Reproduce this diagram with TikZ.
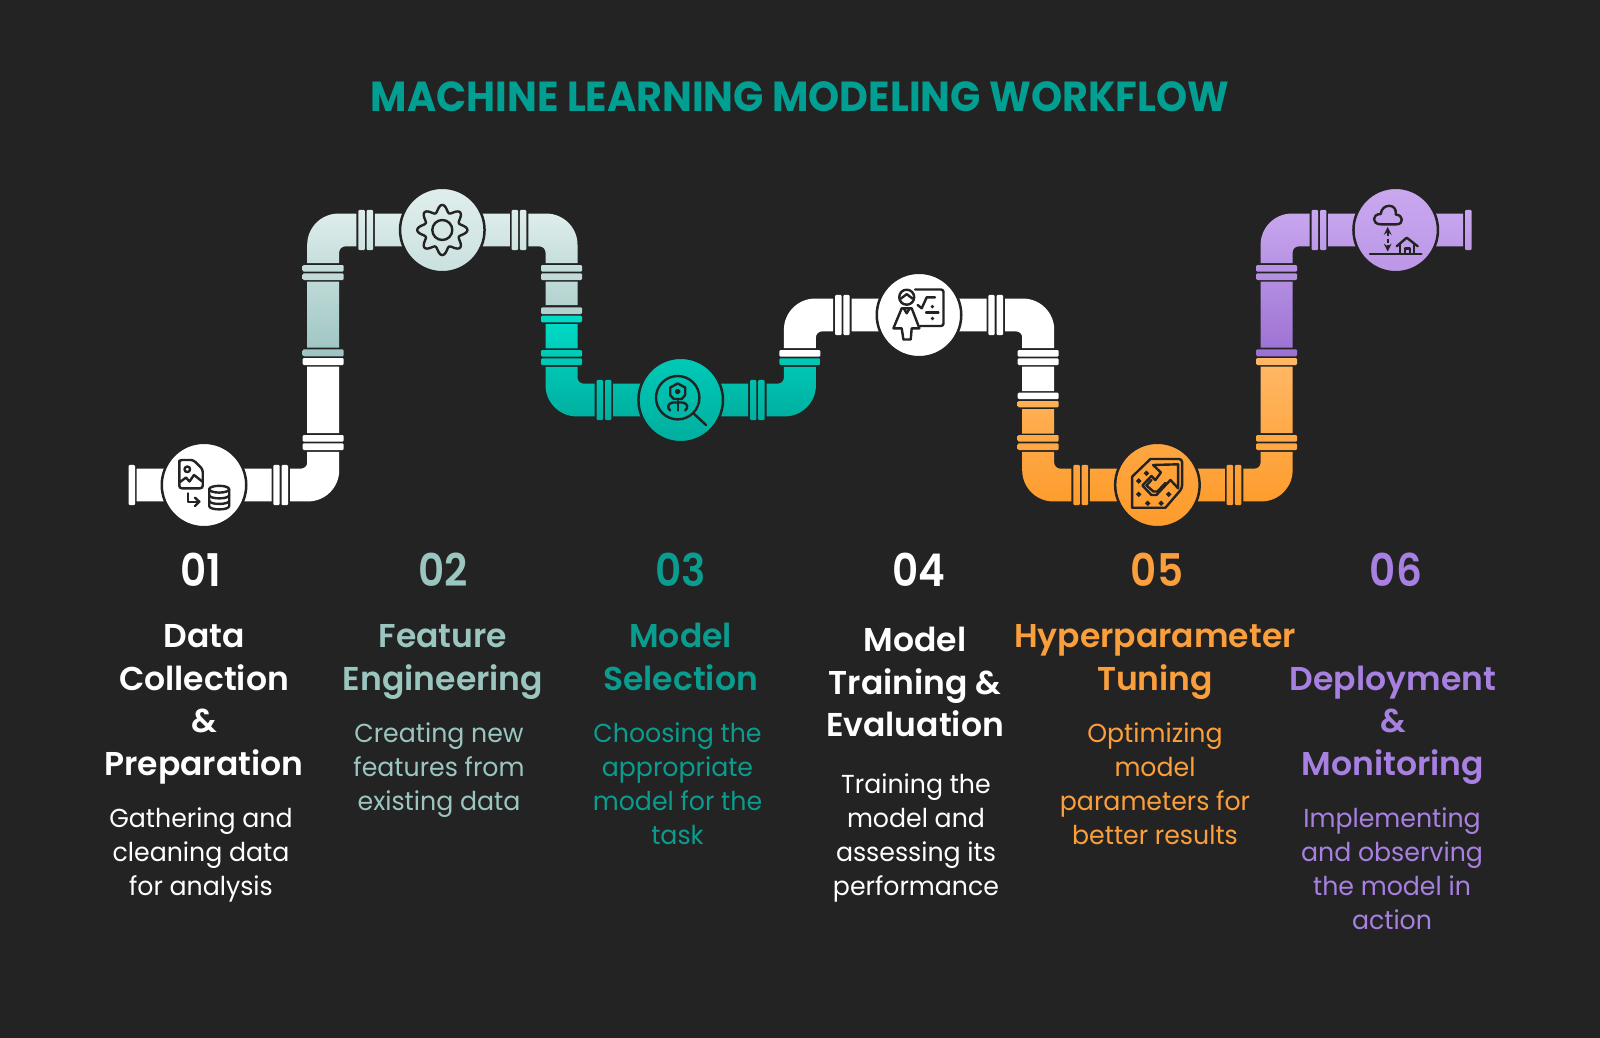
\documentclass[tikz,border=0pt]{standalone}
\usepackage{fontspec}
\setmainfont[FakeStretch=0.97]{Poppins}
\newfontfamily\headfont{Poppins SemiBold}
\newfontfamily\numfont[FakeStretch=0.9]{Poppins SemiBold}
\newfontfamily\titlefont[FakeStretch=0.944]{Poppins Bold}
\usetikzlibrary{calc}
\definecolor{bgdark}{HTML}{232323}
\definecolor{paleA}{HTML}{DFEEEC}
\definecolor{paleB}{HTML}{9CC4C1}
\definecolor{paleText}{HTML}{9BC6C0}
\definecolor{tealA}{HTML}{00DCC8}
\definecolor{tealB}{HTML}{00AE9E}
\definecolor{tealText}{HTML}{0A9C8E}
\definecolor{titleText}{HTML}{009F92}
\definecolor{orangeA}{HTML}{FFB866}
\definecolor{orangeB}{HTML}{FE9C2C}
\definecolor{orangeText}{HTML}{FB9F3C}
\definecolor{purpleA}{HTML}{C9A8EF}
\definecolor{purpleB}{HTML}{9B70D3}
\definecolor{purpleText}{HTML}{A880E2}
\def\flangeH#1#2#3{[rounded corners=1.2pt] (#1,#3-20.2) rectangle (#2,#3+20.2)}
\def\flangeV#1#2#3{[rounded corners=1.2pt] (#1-20.5,#2) rectangle (#1+20.5,#3)}
\def\pipeH#1#2#3{[sharp corners] (#1,#3-16.4) rectangle (#2,#3+16.4)}
\def\pipeV#1#2#3{[sharp corners] (#1-16,#2) rectangle (#1+16,#3)}
\def\elbowPipe#1#2#3#4#5{[sharp corners] ({#1},{#4+(#5)*16.4}) -- ({#2+(#3)*(16-31)},{#4+(#5)*16.4})
	.. controls ({#2+(#3)*(16-14)},{#4+(#5)*16.4}) and ({#2+(#3)*16},{#4+(#5)*(16.4-14)}) .. ({#2+(#3)*16},{#4+(#5)*(16.4-31)})
	-- ({#2+(#3)*16},{#4-(#5)*33.2}) -- ({#2-(#3)*16},{#4-(#5)*33.2}) -- ({#2-(#3)*16},{#4-(#5)*(16.4+6)})
	.. controls ({#2-(#3)*16},{#4-(#5)*(16.4+2.7)}) and ({#2-(#3)*(16+2.7)},{#4-(#5)*16.4}) .. ({#2-(#3)*(16+6)},{#4-(#5)*16.4})
	-- ({#1},{#4-(#5)*16.4}) -- cycle}
\def\runLeft#1#2{\flangeH{#1-84}{#1-77.5}{#2} \flangeH{#1-75.7}{#1-69.3}{#2} \pipeH{#1-67.5}{#1}{#2}}
\def\runRight#1#2{\pipeH{#1}{#1+67.5}{#2} \flangeH{#1+69.3}{#1+75.7}{#2} \flangeH{#1+77.5}{#1+84}{#2}}
\def\drawPlusMark#1#2{
\fill[bgdark] (#1-2.8,#2) -- (#1,#2-2.8) -- (#1+2.8,#2) -- (#1,#2+2.8) -- cycle;
}
\begin{document}
\begin{tikzpicture}[x=1pt,y=-1pt,
hub/.style={circle, inner sep=0pt, outer sep=0pt, minimum size=84.5pt, draw=bgdark, line width=2.5pt},
iconline/.style={draw=bgdark, line width=2.4pt, line cap=round, line join=round},
numtext/.style={inner sep=0pt, font=\fontsize{45}{45}\numfont},
headtext/.style={inner sep=0pt, align=center, font=\fontsize{33}{42.5}\headfont},
desctext/.style={inner sep=0pt, align=center, font=\fontsize{26}{34}\selectfont}]
\useasboundingbox (0,0) rectangle (1600,1038);
\fill[bgdark] (0,0) rectangle (1600,1038);
\coordinate (p1) at (204,485);
\coordinate (p2) at (442.3,230);
\coordinate (p3) at (680.7,400);
\coordinate (p4) at (919,315);
\coordinate (p5) at (1157.4,485);
\coordinate (p6) at (1395.7,230);
\fill[white] \flangeH{128.7}{135}{485} \pipeH{136.5}{204}{485} \runRight{204}{485}
	\elbowPipe{204+86}{323.2}{1}{485}{1}
	\flangeV{323.2}{443.3}{450} \flangeV{323.2}{435}{441.7}
	\pipeV{323.2}{366.7}{433} \flangeV{323.2}{358}{365};
\shade[top color=paleA, bottom color=paleB] \flangeV{323.2}{349.3}{356.3}
	\pipeV{323.2}{281.7}{347.5} \flangeV{323.2}{273.3}{280} \flangeV{323.2}{265}{271.7}
	\elbowPipe{442.3-86}{323.2}{-1}{230}{-1} \runLeft{442.3}{230} \runRight{442.3}{230}
	\elbowPipe{442.3+86}{561.5}{1}{230}{-1}
	\flangeV{561.5}{265}{271.7} \flangeV{561.5}{273.3}{280}
	\pipeV{561.5}{281.7}{305} \flangeV{561.5}{307.3}{314};
\shade[top color=tealA, bottom color=tealB] \flangeV{561.5}{315.7}{322.3}
	\pipeV{561.5}{324}{348.3} \flangeV{561.5}{350}{356.7} \flangeV{561.5}{358.3}{365}
	\elbowPipe{680.7-86}{561.5}{-1}{400}{1} \runLeft{680.7}{400} \runRight{680.7}{400}
	\elbowPipe{680.7+86}{799.9}{1}{400}{1} \flangeV{799.9}{358.3}{365};
\fill[white] \flangeV{799.9}{350}{356.7}
	\elbowPipe{919-86}{799.9}{-1}{315}{-1} \runLeft{919}{315} \runRight{919}{315}
	\elbowPipe{919+86}{1038.2}{1}{315}{-1}
	\flangeV{1038.2}{350}{356.7} \flangeV{1038.2}{358.3}{365}
	\pipeV{1038.2}{366.7}{391} \flangeV{1038.2}{392.7}{399};
\shade[top color=orangeA, bottom color=orangeB] \flangeV{1038.2}{401}{407.3}
	\pipeV{1038.2}{409}{433.5} \flangeV{1038.2}{435}{441.7} \flangeV{1038.2}{443.3}{450}
	\elbowPipe{1157.4-86}{1038.2}{-1}{485}{1} \runLeft{1157.4}{485} \runRight{1157.4}{485}
	\elbowPipe{1157.4+86}{1276.6}{1}{485}{1}
	\flangeV{1276.6}{443.3}{450} \flangeV{1276.6}{435}{441.7}
	\pipeV{1276.6}{366.7}{433} \flangeV{1276.6}{358}{365};
\shade[top color=purpleA, bottom color=purpleB] \flangeV{1276.6}{349.3}{356.3}
	\pipeV{1276.6}{281.7}{347.5} \flangeV{1276.6}{273.3}{280} \flangeV{1276.6}{265}{271.7}
	\elbowPipe{1395.7-86}{1276.6}{-1}{230}{-1} \runLeft{1395.7}{230}
	\pipeH{1395.7}{1395.7+67.5}{230} \flangeH{1395.7+69.3}{1395.7+76}{230};
\node[hub, fill=white] (hub1) at (p1) {};
\node[hub, top color=paleA, bottom color=paleA!70!paleB] (hub2) at (p2) {};
\node[hub, top color=tealA!60!tealB, bottom color=tealB] (hub3) at (p3) {};
\node[hub, fill=white] (hub4) at (p4) {};
\node[hub, top color=orangeA!35!orangeB, bottom color=orangeB] (hub5) at (p5) {};
\node[hub, top color=purpleA, bottom color=purpleA!70!purpleB] (hub6) at (p6) {};
\begin{scope}[shift = {(p1)}]
	\draw[iconline] (-24.7,-22) [rounded corners=2.5pt] -- (-24.7,-25) -- (-10.7,-25) -- (-1.3,-15.7) -- (-1.3,3.3) -- (-24.7,3.3) -- cycle;
	\draw[iconline] (-16.7,-15.7) circle (2.8);
	\draw[iconline] (-24,-3) -- (-18,-7.5) -- (-14.5,-3.5) -- (-10,-10) -- (-1.7,-3.5);
	\draw[iconline] (-16.3,8.3) -- (-16.3,16.7) -- (-4.7,16.7);
	\draw[iconline] (-9,12.7) -- (-4.7,16.7) -- (-9,21);
	\draw[iconline] (15.2,4.2) ellipse (10 and 3.4);
	\draw[iconline] (5.2,4.2) -- (5.2,21) .. controls (5.2,25.5) and (25.2,25.5) .. (25.2,21) -- (25.2,4.2);
	\draw[iconline] (5.2,10) .. controls (5.2,14.5) and (25.2,14.5) .. (25.2,10);
	\draw[iconline] (5.2,15.7) .. controls (5.2,20) and (25.2,20) .. (25.2,15.7);
\end{scope}
\begin{scope}[shift = {(p2)}]
	\draw[iconline] plot[domain=0:360, samples=120, smooth] (\x:{21.5+3.6*cos(8*\x)}) -- cycle;
	\draw[iconline] (0,0) circle (10);
\end{scope}
\begin{scope}[shift = {(p3)}]
	\draw[iconline] (-3,-2.3) circle (21.7);
	\draw[iconline] (12.7,13.3) -- (25.3,25);
	\draw[iconline] (-3,-16.5) -- (4.5,-12.5) -- (4.5,-5) -- (1,-1) -- (-7,-1) -- (-10.5,-5) -- (-10.5,-12.5) -- cycle;
	\draw[iconline] (-3,-8.5) circle (1.8);
	\draw[iconline] (-3,1) -- (-3,10.5);
	\draw[iconline] (-3,2.5) -- (-8,2.5) .. controls (-13.5,3.5) and (-13.5,8) .. (-10.5,10.5);
	\draw[iconline] (-3,2.5) -- (2,2.5) .. controls (7.5,3.5) and (7.5,8) .. (4.5,10.5);
\end{scope}
\begin{scope}[shift = {(p4)}]
	\draw[iconline] (-12.3,-17.8) circle (7.5);
	\draw[iconline] (-18.3,-16.3) -- (-12.3,-20.8) -- (-6.3,-16.3);
	\draw[iconline] (-17.3,-6.7) -- (-7.3,-6.7) -- (0.4,13.3) -- (-7.3,13.3) -- (-8.3,24.5) -- (-15.6,24.5) -- (-17.3,13.3) -- (-25.6,13.3) -- cycle;
	\draw[iconline] (-15.3,-6.7) -- (-12.3,-1.7) -- (-9.3,-6.7);
	\draw[iconline] (-4,-25.5) [rounded corners=2.5pt] -- (24.5,-25.5) -- (24.5,11) -- (1,11);
	\draw[iconline] (-1.3,-10) -- (2.7,-6.7) -- (7.7,-17.7) -- (16,-17.7);
	\draw[iconline] (7,-2.4) -- (19.4,-2.4);
	\fill[bgdark] (13.4,-8.4) circle (1.9);
	\fill[bgdark] (13.4,3.5) circle (1.9);
\end{scope}
\begin{scope}[shift = {(p5)}]
	\draw[iconline] (-25.3,-8.3) -- (-7,-26) [rounded corners=3pt] -- (24.7,-26) -- (24.7,3.3) [sharp corners] -- (8,22.7) -- (-25.3,22.7) -- cycle;
	\draw[iconline] (-4.3,-20) -- (20.7,-20.7) -- (20.7,3.3) -- (13,-5) -- (-1,10) -- (-6,10) -- (-15,0.5) -- (-6,-9) -- (-2,-5) -- (3.5,-12.5) -- cycle;
	\draw[iconline] (-6,-5) -- (-11,0.5) -- (-4,6.5) -- (0,6.5) -- (8,-2);
	\drawPlusMark{-18.7}{-4}
	\drawPlusMark{-11}{-11.7}
	\drawPlusMark{-18.7}{9.3}
	\drawPlusMark{-9.7}{18.3}
	\drawPlusMark{3.7}{18.3}
	\drawPlusMark{11.3}{9.3}
\end{scope}
\begin{scope}[shift = {(p6)}]
	\draw[iconline] (-15,-5.7) .. controls (-24,-5.7) and (-24,-16) .. (-15,-16) .. controls (-14,-27) and (2,-27) .. (0,-15.5) .. controls (8,-15) and (8,-5.7) .. (1,-5.7) -- cycle;
	\draw[iconline, line cap=butt, stealth-stealth, dash pattern=on 4pt off 2.5pt] (-8,-3) -- (-8,21.5);
	\draw[iconline] (-25.7,23.7) -- (25.7,23.7);
	\draw[iconline] (1,16.3) -- (11,7.7) -- (22,16.3);
	\draw[iconline] (4.3,14.3) -- (4.3,23.7);
	\draw[iconline] (18.3,14.3) -- (18.3,23.7);
	\draw[iconline] (9,23.7) -- (9,18.5) -- (14,18.5) -- (14,23.7);
\end{scope}
\node[inner sep=0pt, text=titleText, font=\fontsize{42}{42}\titlefont] (title) at (800,97) {MACHINE LEARNING MODELING WORKFLOW};
\node[numtext, text=white] (num1) at (201,570) {01};
\node[numtext, text=paleText] (num2) at (443,570) {02};
\node[numtext, text=tealText] (num3) at (681,570) {03};
\node[numtext, text=white] (num4) at (919,570) {04};
\node[numtext, text=orangeText] (num5) at (1157,570) {05};
\node[numtext, text=purpleText] (num6) at (1396,570) {06};
\node[headtext, text=white] (head1) at (204,704.5) {Data\\Collection\\\&\\Preparation};
\node[headtext, text=paleText] (head2) at (443,662) {Feature\\Engineering};
\node[headtext, text=tealText] (head3) at (680.6,657) {Model\\Selection};
\node[headtext, text=white] (head4) at (915,682) {Model\\Training \&\\Evaluation};
\node[headtext, text=orangeText] (head5) at (1155,662) {Hyperparameter\\Tuning};
\node[headtext, text=purpleText] (head6) at (1393,725) {Deployment\\\&\\Monitoring};
\node[desctext, text=white] (desc1) at (201,855) {Gathering and\\cleaning data\\for analysis};
\node[desctext, text=paleText] (desc2) at (439,770.5) {Creating new\\features from\\existing data};
\node[desctext, text=tealText] (desc3) at (677.5,784) {Choosing the\\appropriate\\model for the\\task};
\node[desctext, text=white] (desc4) at (916,838) {Training the\\model and\\assessing its\\performance};
\node[desctext, text=orangeText] (desc5) at (1155,784) {Optimizing\\model\\parameters for\\better results};
\node[desctext, text=purpleText] (desc6) at (1392,869) {Implementing\\and observing\\the model in\\action};
\end{tikzpicture}
\end{document}
